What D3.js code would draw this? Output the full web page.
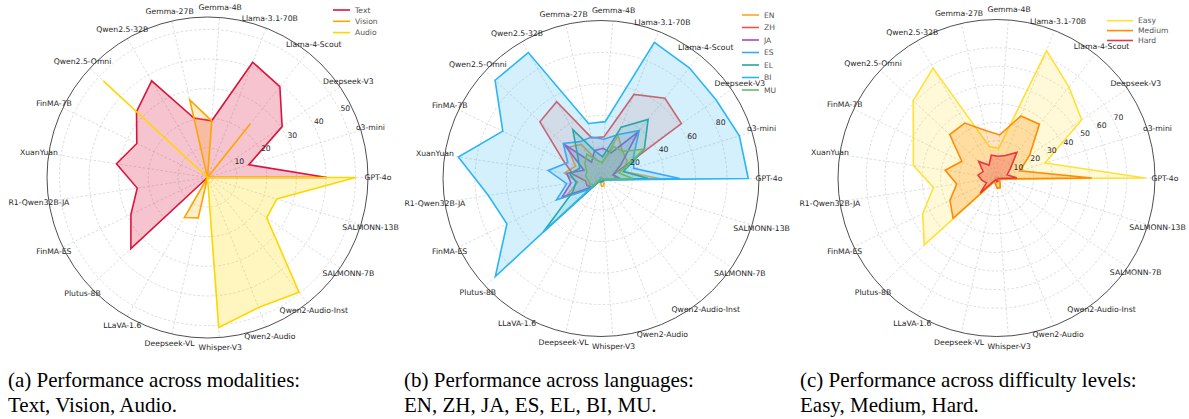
<!DOCTYPE html>
<html><head><meta charset="utf-8">
<script src="https://cdn.jsdelivr.net/npm/d3@7"></script>
<style>
html,body{margin:0;padding:0;background:#fff;}
svg text{font-family:"DejaVu Sans",sans-serif;}
.cap{font-family:"Liberation Serif","Times New Roman",serif;font-size:21px;fill:#000;}
</style></head>
<body>
<svg id="c" width="1189" height="419"></svg>
<script>
const categories = ["GPT-4o","o3-mini","Deepseek-V3","Llama-4-Scout","Llama-3.1-70B","Gemma-4B","Gemma-27B","Qwen2.5-32B","Qwen2.5-Omni","FinMA-7B","XuanYuan","R1-Qwen32B-JA","FinMA-ES","Plutus-8B","LLaVA-1.6","Deepseek-VL","Whisper-V3","Qwen2-Audio","Qwen2-Audio-Inst","SALMONN-7B","SALMONN-13B"];

// (a) modalities
const modalityNames = ["Text","Vision","Audio"];
const textVals   = [40.4,14.6,30.5,39.2,41.8,19.2,20.6,37.7,32.7,26.5,31.1,24.0,28.7,35.3,0,0,0,0,0,0,0];
const visionVals = [0,0,0,23.2,0,19.2,26.9,0,0,0,0,0,0,0,15.6,14.0,0,0,0,0,0];
const audioVals  = [50.0,0,0,0,0,0,0,0,48.0,0,0,0,0,0,0,0,50.8,47.2,49.6,24.2,24.5];
const modalityTicks = [10,20,30,40,50];

// (b) languages
const languageNames = ["EN","ZH","JA","ES","EL","BI","MU"];
const enVals = [37,15,20,22,29.5,10,12,25,29,18,23.5,15,23.7,10,2,2,5,5,3,2,3];
const zhVals = [10,8,61.8,65.1,57.3,26.6,26.5,56.3,52.9,26.7,18,10,10,8,2,2,2,2,2,2,2];
const jaVals = [12,8,15,37.9,17.4,19.2,18.3,12,32,12,22,19.3,27.5,8,2,2,2,2,2,2,2];
const esVals = [50,21.8,25,38.9,30,25,27,27,32.7,23.4,33.9,22,31.3,10,2,2,2,2,2,2,3];
const elVals = [30,15,33.3,48,35,13.8,18,35.8,20,15,20,16,20,50,2,2,2,2,2,2,2];
const biVals = [93.5,91.9,88.5,89.9,92.8,36.2,35.8,92.3,91.7,69.2,91.6,72.3,66.3,91.5,0,0,0,0,0,0,3];
const muVals = [20,12,33,22,22,10,12,18,14,10,10,8,8,6,1,1,1,1,1,1,1];
const languageTicks = [20,40,60,80];

// (c) difficulty
const difficultyNames = ["Easy","Medium","Hard"];
const easyVals   = [80,27.3,55.4,62.5,73.6,16,17.3,68.2,61.1,49.6,45.2,34.3,44,53,2,3,5.6,5.6,3,2,2];
const mediumVals = [51.2,13.1,21.5,37,35.8,23.2,26.2,34.1,34.3,20.7,27.9,21.6,27.8,31.8,2,3,5.5,5.5,3,2,2];
const hardVals   = [11,6,9,17.6,13,11.7,12.6,8,13.1,8,10,8,6,12,1,1,2,2,1,1,1];
const difficultyTicks = [10,20,30,40,50,60,70];

const captions = [
  ["(a) Performance across modalities:","Text, Vision, Audio."],
  ["(b) Performance across languages:","EN, ZH, JA, ES, EL, BI, MU."],
  ["(c) Performance across difficulty levels:","Easy, Medium, Hard."]
];

const svg = d3.select("#c");
const n = categories.length;
const ang = d3.scaleLinear().domain([0, n]).range([0, 2*Math.PI]);

function radar(cfg){
  const g = svg.append("g").attr("transform",`translate(${cfg.cx},${cfg.cy})`);
  const r = d3.scaleLinear().domain([0, cfg.rMax]).range([0, cfg.R]);
  const px = (i,v)=> r(v)*Math.cos(ang(i));
  const py = (i,v)=> -r(v)*Math.sin(ang(i));
  g.selectAll("circle.grid").data(cfg.ticks).join("circle")
    .attr("r", d=>r(d)).attr("fill","none").attr("stroke","#cfcfcf")
    .attr("stroke-width",0.7).attr("stroke-dasharray","2.5,2");
  g.selectAll("line.spoke").data(categories).join("line")
    .attr("x1",0).attr("y1",0)
    .attr("x2",(d,i)=>px(i,cfg.rMax)).attr("y2",(d,i)=>py(i,cfg.rMax))
    .attr("stroke","#cfcfcf").attr("stroke-width",0.7).attr("stroke-dasharray","2.5,2");
  g.append("circle").attr("r",cfg.R).attr("fill","none").attr("stroke","#222").attr("stroke-width",0.8);
  const line = d3.lineRadial()
    .angle((d,i)=> Math.PI/2 - ang(i))
    .radius(d=> r(d))
    .curve(d3.curveLinearClosed);
  cfg.series.forEach(s=>{
    g.append("path").attr("d", line(s.values))
      .attr("fill", s.color).attr("fill-opacity", s.fo)
      .attr("stroke", s.color).attr("stroke-width", s.sw||1.6).attr("stroke-linejoin","miter");
  });
  const ta = cfg.tickAngle*Math.PI/180;
  g.selectAll("text.tick").data(cfg.ticks).join("text")
    .attr("x", d=>(r(d)+6)*Math.cos(ta)).attr("y", d=>-(r(d)+6)*Math.sin(ta))
    .attr("text-anchor","middle").attr("dominant-baseline","central")
    .attr("font-size",7.7).attr("fill","#262626").text(d=>d);
  g.selectAll("text.cat").data(categories).join("text")
    .attr("x",(d,i)=>(cfg.R+10)*Math.cos(ang(i)))
    .attr("y",(d,i)=>-(cfg.R+10)*Math.sin(ang(i)))
    .attr("text-anchor","middle").attr("dominant-baseline","central")
    .attr("font-size",7.7).attr("fill","#262626").text(d=>d);
  const lg = svg.append("g");
  cfg.series.forEach((s,k)=>{
    const y = cfg.legend.y + k*cfg.legend.dy;
    lg.append("line").attr("x1",cfg.legend.x).attr("x2",cfg.legend.x+cfg.legend.w)
      .attr("y1",y).attr("y2",y).attr("stroke",s.color).attr("stroke-width",1.6);
    lg.append("text").attr("x",cfg.legend.x+cfg.legend.w+5).attr("y",y)
      .attr("dominant-baseline","central").attr("font-size",7.6).attr("fill","#555").text(s.name);
  });
}

radar({cx:207.5, cy:177.5, R:160.5, rMax:54.2, ticks:modalityTicks, tickAngle:26.5,
  series:[
    {name:modalityNames[0], color:"#DC143C", values:textVals, fo:0.25},
    {name:modalityNames[1], color:"#FFA500", values:visionVals, fo:0.2},
    {name:modalityNames[2], color:"#FFD700", values:audioVals, fo:0.25}
  ],
  legend:{x:333, y:10, dy:11.3, w:17}});

radar({cx:601, cy:178.5, R:158, rMax:100.3, ticks:languageTicks, tickAngle:25,
  series:[
    {name:languageNames[0], color:"#FFA726", values:enVals, fo:0.15},
    {name:languageNames[1], color:"#EF5350", values:zhVals, fo:0.15},
    {name:languageNames[2], color:"#AB47BC", values:jaVals, fo:0.15},
    {name:languageNames[3], color:"#42A5F5", values:esVals, fo:0.15},
    {name:languageNames[4], color:"#26A69A", values:elVals, fo:0.15},
    {name:languageNames[5], color:"#29B6F6", values:biVals, fo:0.2},
    {name:languageNames[6], color:"#66BB6A", values:muVals, fo:0.15}
  ],
  legend:{x:742, y:15, dy:12.5, w:17}});

radar({cx:996.5, cy:178, R:158.5, rMax:85.2, ticks:difficultyTicks, tickAngle:26.5,
  series:[
    {name:difficultyNames[0], color:"#FFE135", values:easyVals, fo:0.2},
    {name:difficultyNames[1], color:"#FF8C00", values:mediumVals, fo:0.25},
    {name:difficultyNames[2], color:"#E8383D", values:hardVals, fo:0.3}
  ],
  legend:{x:1107, y:20.7, dy:9.9, w:26}});

const capX = [8, 404, 800];
captions.forEach((c,k)=>{
  svg.append("text").attr("class","cap").attr("x",capX[k]).attr("y",387).text(c[0]);
  svg.append("text").attr("class","cap").attr("x",capX[k]).attr("y",412).text(c[1]);
});
</script>
</body></html>
